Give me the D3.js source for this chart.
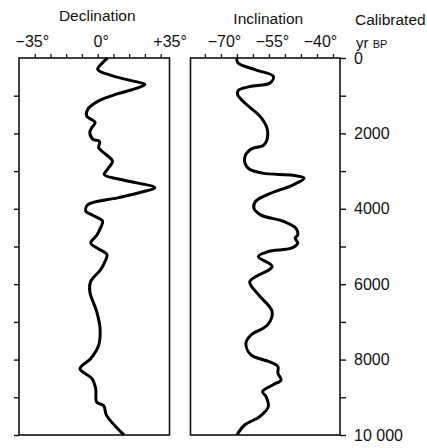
<!DOCTYPE html>
<html>
<head>
<meta charset="utf-8">
<script src="https://cdn.jsdelivr.net/npm/d3@7"></script>
<style>
  body { margin: 0; background: #fff; }
  text { font-family: "Liberation Sans", Arial, sans-serif; fill: #111; }
</style>
</head>
<body>
<div id="chart"></div>
<script>
var w = 427, h = 448;

// declination record (age in calibrated yr BP, degrees)
var decAge = [0, 150, 300, 450, 600, 700, 800, 960, 1150, 1360, 1540, 1710, 1850, 1980, 2150, 2220, 2380,
  2550, 2740, 2950, 3090, 3250, 3440, 3560, 3710, 3890, 4070, 4170, 4330, 4500, 4690, 4910, 5050, 5220,
  5420, 5620, 5930, 6200, 6730, 7180, 7620, 7970, 8240, 8500, 8770, 9130, 9220, 9480, 9930, 10000];
var decDeg = [5, 2, 0, 6, 17, 24, 20, 9.5, 0, -5, -5.6, -1.3, -3, -4, -2.5, 1, 0.5,
  4, 7.5, 5, 3.3, 14, 29, 22, 10, -5, -6, -2.5, 2.5, 1.5, -0.3, -3.5, 0, 4.7,
  3.5, 1.4, -3.6, -4, -0.5, 1.2, 0.5, -3.5, -9, -3, -1, -0.5, 3, 4.5, 12, 13.5];

// inclination record
var incAge = [0, 133, 310, 487, 664, 760, 860, 973, 1195, 1593, 1947, 2301, 2420, 2655, 2920, 3053, 3110,
  3186, 3363, 3629, 3806, 3983, 4160, 4337, 4514, 4691, 4779, 4912, 5045, 5133, 5266, 5531, 5930,
  6284, 6726, 7080, 7346, 7567, 7877, 8054, 8186, 8363, 8540, 8673, 8850, 8983, 9248, 9514, 9735, 10000];
var incDeg = [-65.1, -64.6, -59.4, -53.6, -54.7, -61, -64.6, -64.8, -62.5, -57.3, -55.4, -56.5, -60.7, -62.6, -61.5, -57, -47.5,
  -44, -47.4, -55.6, -59.2, -59.7, -57.6, -50.3, -46.6, -46, -46.8, -46, -48, -55.2, -58.3, -54, -61,
  -58.2, -54, -55.4, -60.6, -62.2, -60.6, -54.9, -52.2, -52.2, -51.2, -53.8, -57, -55.9, -55.2, -57.9, -62.6, -65];

var decLabels = [-35, 0, 35];
var incLabels = [-70, -55, -40];
var decMinor = [-32, -24, -16, -8, 0, 8, 16, 24, 32];
var incMinor = [-75, -70, -65, -60, -55, -50, -45, -40, -35];
var ageTicks = [1000, 2000, 3000, 4000, 5000, 6000, 7000, 8000, 9000, 10000];
var ageLabels = [0, 2000, 4000, 6000, 8000, 10000];

var svg = d3.select("#chart").append("svg")
  .attr("width", w)
  .attr("height", h);

var yScale = d3.scaleLinear().domain([0, 10000]).range([58, 435]);
var xDec = d3.scaleLinear().domain([-40, 36.5]).range([19, 169.5]);
var xInc = d3.scaleLinear().domain([-79.5, -32.8]).range([190.5, 340]);

function fmtDeg(d) {
  if (d > 0) return "+" + d + "\u00b0";
  if (d < 0) return "\u2212" + Math.abs(d) + "\u00b0";
  return "0\u00b0";
}

function panel(xScale, ages, vals, labels, minor, title, titleY) {
  var x0 = xScale.range()[0], x1 = xScale.range()[1];
  var y0 = yScale(0), y1 = yScale(10000);

  svg.append("rect")
    .attr("x", x0).attr("y", y0)
    .attr("width", x1 - x0).attr("height", y1 - y0)
    .attr("fill", "none")
    .attr("stroke", "#111")
    .attr("stroke-width", 1.6);

  // minor ticks along the top
  svg.append("g")
    .attr("transform", "translate(0," + y0 + ")")
    .call(d3.axisTop(xScale).tickValues(minor).tickSize(4).tickSizeOuter(0).tickFormat(""))
    .call(function(g) { g.select(".domain").remove(); })
    .selectAll("line").attr("stroke", "#111").attr("stroke-width", 1.3);

  // labels
  var lab = svg.append("g")
    .attr("transform", "translate(0," + y0 + ")")
    .call(d3.axisTop(xScale).tickValues(labels).tickSize(0).tickPadding(11).tickFormat(fmtDeg));
  lab.select(".domain").remove();
  lab.selectAll("text")
    .attr("font-size", "16px")
    .attr("font-family", "Liberation Sans, Arial, sans-serif")
    .attr("fill", "#111")
    .attr("dx", 3);

  svg.append("text")
    .attr("x", (x0 + x1) / 2 + 3)
    .attr("y", titleY)
    .attr("text-anchor", "middle")
    .attr("font-size", "15.5px")
    .text(title);

  var line = d3.line()
    .x(function(d, i) { return xScale(vals[i]); })
    .y(function(d) { return yScale(d); })
    .curve(d3.curveCatmullRom.alpha(0.5));

  svg.append("path")
    .datum(ages)
    .attr("d", line)
    .attr("fill", "none")
    .attr("stroke", "#000")
    .attr("stroke-width", 3)
    .attr("stroke-linejoin", "round");
}

panel(xDec, decAge, decDeg, decLabels, decMinor, "Declination", 21);
panel(xInc, incAge, incDeg, incLabels, incMinor, "Inclination", 24);

// left ticks on declination panel
svg.append("g")
  .attr("transform", "translate(" + xDec.range()[0] + ",0)")
  .call(d3.axisLeft(yScale).tickValues(ageTicks).tickSize(5).tickSizeOuter(0).tickFormat(""))
  .call(function(g) { g.select(".domain").remove(); })
  .selectAll("line").attr("stroke", "#111").attr("stroke-width", 1.4);

// age axis on the right
svg.append("g")
  .attr("transform", "translate(" + xInc.range()[1] + ",0)")
  .call(d3.axisRight(yScale).tickValues(ageTicks.concat([0])).tickSize(6).tickSizeOuter(0).tickFormat(""))
  .call(function(g) { g.select(".domain").remove(); })
  .selectAll("line").attr("stroke", "#111").attr("stroke-width", 1.4);

var ageAx = svg.append("g")
  .attr("transform", "translate(" + xInc.range()[1] + ",0)")
  .call(d3.axisRight(yScale).tickValues(ageLabels).tickSize(0).tickPadding(14)
    .tickFormat(function(d) { return d == 10000 ? "10 000" : d; }));
ageAx.select(".domain").remove();
ageAx.selectAll("text")
  .attr("font-size", "16px")
  .attr("font-family", "Liberation Sans, Arial, sans-serif")
  .attr("fill", "#111");

svg.append("text")
  .attr("x", 355)
  .attr("y", 25)
  .attr("font-size", "15.5px")
  .text("Calibrated");

var yr = svg.append("text")
  .attr("x", 356)
  .attr("y", 48)
  .attr("font-size", "15px");
yr.append("tspan").text("yr ");
yr.append("tspan").attr("font-size", "11px").text("BP");
</script>
</body>
</html>
